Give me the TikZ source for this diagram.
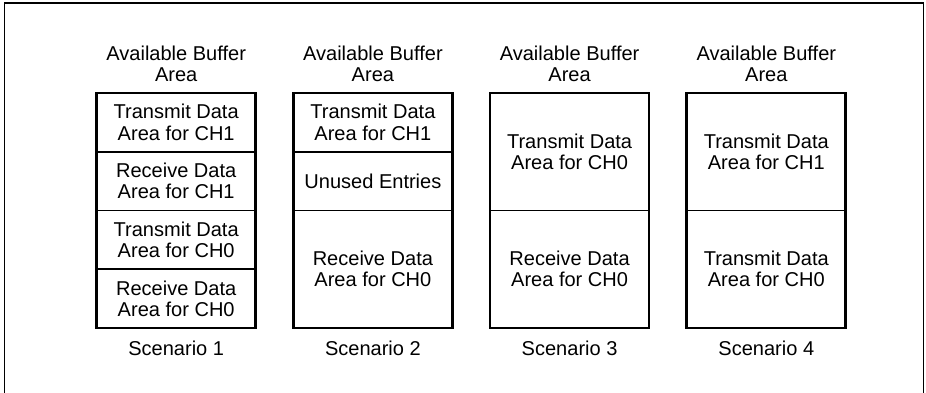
\documentclass[tikz,border=0pt]{standalone}
\usepackage{fontspec}
\setmainfont{Liberation Sans}
\usetikzlibrary{positioning}

\tikzset{
  cell/.style={draw=black, line width=1.1pt, minimum width=3.18cm, minimum height=1.175cm,
               inner sep=0pt, outer sep=0pt, align=center, font=\fontsize{11.4}{12}\selectfont},
  halfcell/.style={cell, minimum height=2.35cm},
  buffer/.style={draw=black, line width=1.5pt},
  caption/.style={align=center, inner sep=0pt, font=\fontsize{11.4}{12}\selectfont}
}

\begin{document}
\begin{tikzpicture}[node distance=0pt]
  \useasboundingbox (0,0) rectangle (18.52,7.86);
  % frame
  \draw[line width=1.1pt] (0.09,0) -- (0.09,7.806) -- (18.47,7.806) -- (18.47,0);

  % scenario 1
  \node[caption] (head1) at (3.524,6.59) {Available Buffer\\Area};
  \node[cell] (txone) at (3.524,5.4125) {Transmit Data\\Area for CH1};
  \node[cell, below=of txone] (rxone) {Receive Data\\Area for CH1};
  \node[cell, below=of rxone] (txzero) {Transmit Data\\Area for CH0};
  \node[cell, below=of txzero] (rxzero) {Receive Data\\Area for CH0};
  \draw[buffer] (txone.north west) rectangle (rxzero.south east);
  \node[caption] (name1) at (3.524,0.9) {Scenario 1};

  % scenario 2
  \node[caption] (head2) at (7.458,6.59) {Available Buffer\\Area};
  \node[cell] (txoneb) at (7.458,5.4125) {Transmit Data\\Area for CH1};
  \node[cell, below=of txoneb] (unused) {Unused Entries};
  \node[halfcell, below=of unused] (rxzerob) {Receive Data\\Area for CH0};
  \draw[buffer] (txoneb.north west) rectangle (rxzerob.south east);
  \node[caption] (name2) at (7.458,0.9) {Scenario 2};

  % scenario 3
  \node[caption] (head3) at (11.392,6.59) {Available Buffer\\Area};
  \node[halfcell] (txzeroc) at (11.392,4.825) {Transmit Data\\Area for CH0};
  \node[halfcell, below=of txzeroc] (rxzeroc) {Receive Data\\Area for CH0};
  \draw[buffer] (txzeroc.north west) rectangle (rxzeroc.south east);
  \node[caption] (name3) at (11.392,0.9) {Scenario 3};

  % scenario 4
  \node[caption] (head4) at (15.326,6.59) {Available Buffer\\Area};
  \node[halfcell] (txoned) at (15.326,4.825) {Transmit Data\\Area for CH1};
  \node[halfcell, below=of txoned] (txzerod) {Transmit Data\\Area for CH0};
  \draw[buffer] (txoned.north west) rectangle (txzerod.south east);
  \node[caption] (name4) at (15.326,0.9) {Scenario 4};
\end{tikzpicture}
\end{document}
